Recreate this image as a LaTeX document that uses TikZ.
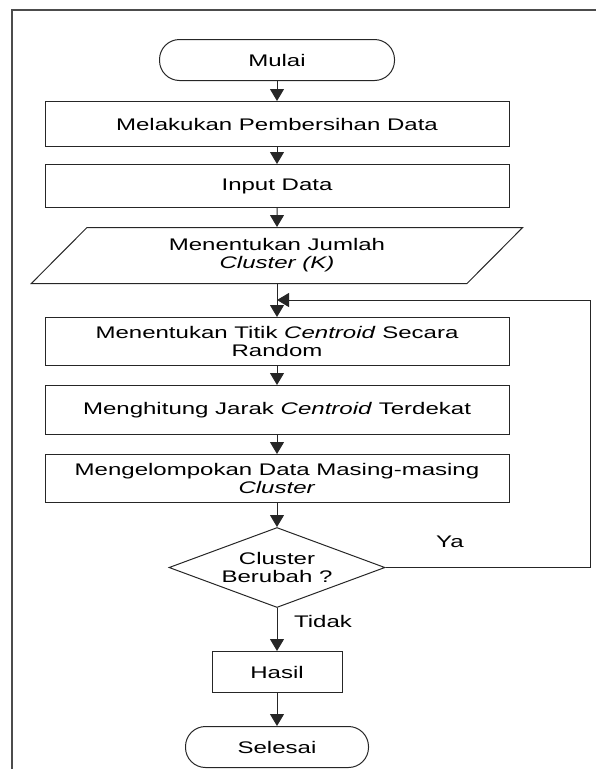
\documentclass[tikz,border=0pt]{standalone}
\usepackage{fontspec}
\setmainfont[FakeStretch=1.43]{Liberation Sans}
\usetikzlibrary{positioning,shapes.geometric,arrows.meta}

\begin{document}
\begin{tikzpicture}[x=1pt, y=-1pt,
				font=\fontsize{16.8}{18}\selectfont,
				terminal/.style={rectangle, rounded corners=20pt, draw=black!85, line width=1pt, minimum width=235pt, minimum height=41pt},
				proses/.style={rectangle, draw=black!85, line width=1pt, minimum width=464pt, minimum height=46pt, align=center},
				masukan/.style={trapezium, trapezium left angle=51, trapezium right angle=129, trapezium stretches=true, draw=black!85, line width=1pt, minimum width=492pt, minimum height=56pt, align=center},
				keputusan/.style={diamond, aspect=2.7, inner sep=0pt, draw=black!85, line width=1pt, minimum width=216pt, minimum height=80pt, align=center},
				panah/.style={draw=black!85, line width=1pt, -{Stealth[inset=0pt, length=12pt, width=14pt]}}
			]
			\useasboundingbox (0,0) rectangle (596,769);
			\draw[black!70, line width=1.2pt] (12,769) -- (12,10) -- (596,10);
			\node[terminal] (mulai) at (277,60) {Mulai};
			\node[proses, minimum height=45pt] (bersih) [below=20pt of mulai] {Melakukan Pembersihan Data};
			\node[proses, minimum height=43pt] (input) [below=17pt of bersih] {Input Data};
			\node[masukan] (jumlah) [below=19pt of input] {Menentukan Jumlah\\\textit{Cluster (K)}};
			\node[proses, minimum height=48pt] (titik) [below=33pt of jumlah] {Menentukan Titik \textit{Centroid} Secara\\Random};
			\node[proses, minimum height=49pt] (jarak) [below=19pt of titik] {Menghitung Jarak \textit{Centroid} Terdekat};
			\node[proses, minimum height=48pt] (kelompok) [below=19pt of jarak] {Mengelompokan Data Masing-masing\\\textit{Cluster}};
			\node[keputusan] (ubah) [below=24pt of kelompok] {Cluster\\Berubah ?};
			\node[proses, minimum width=130pt, minimum height=41pt] (hasil) [below=43pt of ubah] {Hasil};
			\node[terminal, minimum width=183pt] (selesai) [below=33pt of hasil] {Selesai};
			\coordinate[below=16pt of jumlah] (gabung);
			\coordinate[right=313pt of gabung] (atas);
			\node (ya) at (450,542) {Ya};
			\node (tidak) at (323,621) {Tidak};
			\begin{scope}[panah]
			\draw (mulai) -- (bersih);
			\draw (bersih) -- (input);
			\draw (input) -- (jumlah);
			\draw (jumlah.south) -- (titik.north);
			\draw (titik) -- (jarak);
			\draw (jarak) -- (kelompok);
			\draw (kelompok) -- (ubah);
			\draw (ubah.east) -| (atas) -- (gabung);
			\draw (ubah) -- (hasil);
			\draw (hasil) -- (selesai);
			\end{scope}
			\end{tikzpicture}
\end{document}
